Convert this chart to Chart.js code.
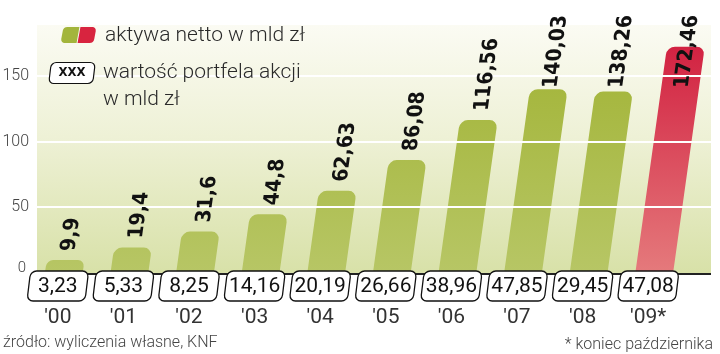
<!DOCTYPE html>
<html>
<head>
<meta charset="utf-8">
<script src="https://cdn.jsdelivr.net/npm/chart.js@4.4.1/dist/chart.umd.min.js"></script>
<style>
  html, body { margin: 0; padding: 0; background: #fff; }
  #wrap { position: relative; width: 720px; height: 354px; }
</style>
</head>
<body>
<div id="wrap"><canvas id="chart"></canvas></div>
<script>
// aktywa netto funduszy (mld zł) i wartość portfela akcji (mld zł)
const years = ["'00", "'01", "'02", "'03", "'04", "'05", "'06", "'07", "'08", "'09*"];
const netAssets = [9.9, 19.4, 31.6, 44.8, 62.63, 86.08, 116.56, 140.03, 138.26, 172.46];
const portfolio = [3.23, 5.33, 8.25, 14.16, 20.19, 26.66, 38.96, 47.85, 29.45, 47.08];
const yTicks = [0, 50, 100, 150];

const SKEW = 0.14;       // slant of the bars
const fmt = v => String(v).replace(".", ",");

function barFill(ctx) {
    const chart = ctx.chart;
    const area = chart.chartArea;
    if (!area) return "#a6b844";
    const g = chart.ctx.createLinearGradient(0, area.top, 0, area.bottom);
    if (ctx.dataIndex === years.length - 1) {
        g.addColorStop(0, "#d01a3c");
        g.addColorStop(1, "#e57a7c");
    } else {
        g.addColorStop(0, "#a0b232");
        g.addColorStop(1, "#b7c665");
    }
    return g;
}

// background panel, under the bars
const panelPlugin = {
    id: "panel",
    beforeDatasetsDraw(chart) {
        const { ctx, chartArea: a } = chart;
        const g = ctx.createLinearGradient(0, a.top, 0, a.bottom);
        g.addColorStop(0, "#fbfbf3");
        g.addColorStop(0.45, "#eef1d6");
        g.addColorStop(1, "#d8e1a8");
        ctx.save();
        ctx.fillStyle = g;
        ctx.fillRect(a.left + 12, a.top, a.right + 30 - (a.left + 12), a.bottom - a.top);
        // skew the bars
        const base = chart.scales.y.getPixelForValue(0);
        ctx.save();
        ctx.transform(1, 0, -SKEW, 1, SKEW * base + 6, 0);
    },
    afterDatasetsDraw(chart) {
        const { ctx, chartArea: a, scales } = chart;
        ctx.restore();
        // white grid lines over the bars
        ctx.strokeStyle = "#ffffff";
        ctx.lineWidth = 2;
        yTicks.slice(1).forEach(t => {
            const y = Math.round(scales.y.getPixelForValue(t));
            ctx.beginPath();
            ctx.moveTo(a.left + 12, y);
            ctx.lineTo(a.right + 30, y);
            ctx.stroke();
        });
        // axis line
        ctx.strokeStyle = "#222";
        ctx.lineWidth = 2;
        ctx.beginPath();
        ctx.moveTo(a.left + 12, a.bottom + 1);
        ctx.lineTo(a.right + 30, a.bottom + 1);
        ctx.stroke();
        ctx.restore();
    }
};

function slantBox(ctx, cx, cy, w, h, r) {
    ctx.save();
    ctx.translate(cx, cy);
    ctx.transform(1, 0, -0.12, 1, 0, 0);
    ctx.beginPath();
    ctx.roundRect(-w / 2, -h / 2, w, h, r);
    ctx.restore();
}

// value labels, portfolio boxes, y ticks, legend and notes
const textPlugin = {
    id: "texts",
    afterDraw(chart) {
        const { ctx, chartArea: a, scales } = chart;
        const meta = chart.getDatasetMeta(0);
        const base = scales.y.getPixelForValue(0);
        ctx.save();

        // y tick labels
        ctx.fillStyle = "#444";
        ctx.textAlign = "right";
        ctx.textBaseline = "middle";
        yTicks.forEach(t => {
            if (t === 0) {
                ctx.font = "300 15px Roboto";
                ctx.fillText("0", 26, base - 5);
            } else {
                ctx.font = "300 16px Roboto";
                ctx.fillText(String(t), 29, scales.y.getPixelForValue(t));
            }
        });

        // rotated, slanted values above the bars
        ctx.font = "bold 21px 'DejaVu Sans Condensed', 'DejaVu Sans'";
        ctx.fillStyle = "#111";
        ctx.textAlign = "left";
        meta.data.forEach((bar, i) => {
            const txt = fmt(netAssets[i]);
            const w = ctx.measureText(txt).width;
            let yb = bar.y - 9;
            if (yb - w < 15) yb = 15 + w;
            const x = bar.x + 6 + SKEW * (base - yb) + 2;
            ctx.save();
            ctx.translate(x, yb);
            ctx.transform(1, 0, -SKEW, 1, 0, 0);
            ctx.rotate(-Math.PI / 2);
            ctx.fillText(txt, 0, 0);
            ctx.restore();
        });

        // boxes with portfolio values
        ctx.font = "21px Roboto";
        ctx.textAlign = "center";
        portfolio.forEach((v, i) => {
            const cx = scales.x.getPixelForValue(i);
            slantBox(ctx, cx, base + 13, 58, 30, 6);
            ctx.fillStyle = "#fff";
            ctx.fill();
            ctx.strokeStyle = "#111";
            ctx.lineWidth = 1.3;
            ctx.stroke();
            ctx.fillStyle = "#111";
            ctx.fillText(fmt(v), cx, base + 14);
        });

        // legend
        ctx.save();
        ctx.translate(78, 35);
        ctx.transform(1, 0, -0.18, 1, 0, 0);
        ctx.beginPath();
        ctx.roundRect(-16, -8, 33, 16, 4);
        ctx.clip();
        ctx.fillStyle = "#a3b53c";
        ctx.fillRect(-17, -9, 17, 18);
        ctx.fillStyle = "#d8243f";
        ctx.fillRect(1, -9, 17, 18);
        ctx.restore();

        slantBox(ctx, 72, 73, 44, 21, 5);
        ctx.fillStyle = "#fff";
        ctx.fill();
        ctx.strokeStyle = "#111";
        ctx.lineWidth = 1.2;
        ctx.stroke();
        ctx.fillStyle = "#111";
        ctx.font = "bold 13px 'DejaVu Sans Condensed', 'DejaVu Sans'";
        ctx.fillText("XXX", 72, 73);

        ctx.fillStyle = "#2a2a2a";
        ctx.textAlign = "left";
        ctx.font = "300 21px Roboto";
        ctx.fillText("aktywa netto w mld zł", 105, 36);
        ctx.fillText("wartość portfela akcji", 103, 73);
        ctx.fillText("w mld zł", 103, 100);

        // notes
        ctx.fillStyle = "#444";
        ctx.font = "300 16px Roboto";
        ctx.fillText("źródło: wyliczenia własne, KNF", 3, 343);
        ctx.textAlign = "right";
        ctx.fillText("* koniec października", 713, 345);
        ctx.restore();
    }
};

new Chart(document.getElementById("chart"), {
    type: "bar",
    data: {
        labels: years,
        datasets: [{
            data: netAssets,
            backgroundColor: barFill,
            borderWidth: 0,
            borderSkipped: false,
            borderRadius: { topLeft: 8, topRight: 8, bottomLeft: 3, bottomRight: 3 },
            barPercentage: 0.72,
            categoryPercentage: 0.8
        }]
    },
    options: {
        responsive: true,
        maintainAspectRatio: false,
        animation: false,
        layout: { padding: { top: 25, right: 39, bottom: 24, left: 25 } },
        plugins: { legend: { display: false }, tooltip: { enabled: false } },
        scales: {
            x: {
                afterFit(scale) { scale.height = 57; },
                grid: { display: false, drawTicks: false },
                border: { display: false },
                ticks: {
                    color: "#333",
                    font: { family: "Roboto", size: 21 },
                    padding: 32,
                    maxRotation: 0,
                    autoSkip: false
                }
            },
            y: {
                display: false,
                min: 0,
                max: 189
            }
        }
    },
    plugins: [panelPlugin, textPlugin]
});
</script>
</body>
</html>
